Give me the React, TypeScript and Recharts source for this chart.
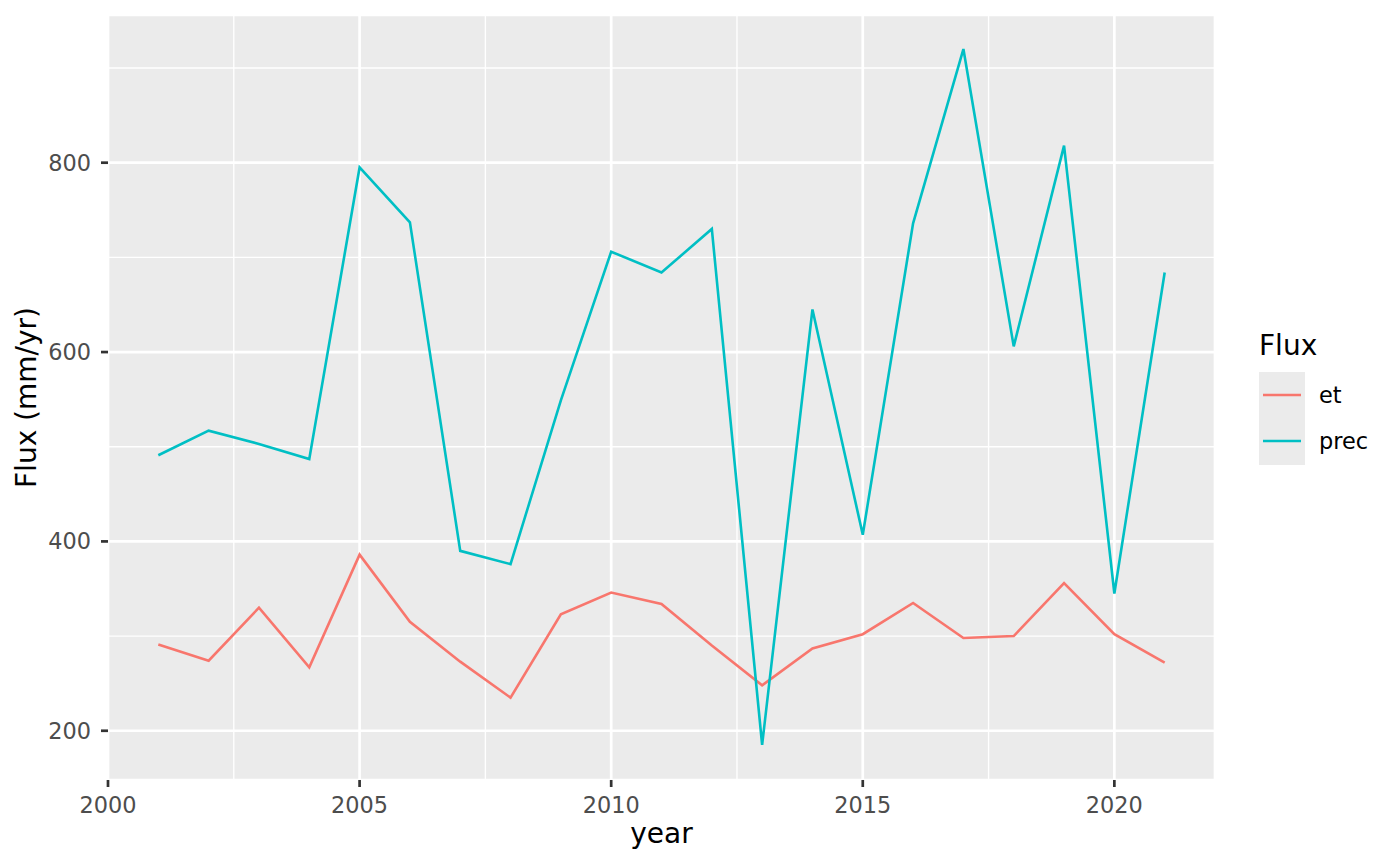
import React from "react";
import {
  LineChart,
  Line,
  XAxis,
  YAxis,
  CartesianGrid,
  ReferenceLine,
} from "recharts";

const years = [2001, 2002, 2003, 2004, 2005, 2006, 2007, 2008, 2009, 2010, 2011, 2012, 2013, 2014, 2015, 2016, 2017, 2018, 2019, 2020, 2021];
const et = [291, 274, 330, 267, 386, 315, 273, 235, 323, 346, 334, 290, 248, 287, 302, 335, 298, 300, 356, 302, 272];
const prec = [491, 517, 503, 487, 795, 737, 390, 376, 549, 706, 684, 730, 185, 645, 407, 736, 920, 606, 818, 345, 684];

const xTicks = [2000, 2005, 2010, 2015, 2020];
const yTicks = [200, 400, 600, 800];
const xMinor = [2002.5, 2007.5, 2012.5, 2017.5];
const yMinor = [300, 500, 700, 900];

const seriesNames = ["et", "prec"];
const seriesColors = ["#F8766D", "#00BFC4"];

const data = years.map((year, i) => ({ year, et: et[i], prec: prec[i] }));

const FONT = "'DejaVu Sans', sans-serif";

// ggplot-style legend: title, grey key column, labels
function LegendBox() {
  return (
    <svg width={140} height={160} style={{ display: "block", fontFamily: FONT }}>
      <text x={19} y={35} fontSize={28} fill="#000">Flux</text>
      <rect x={19} y={52} width={46} height={93} fill="#EBEBEB" />
      {seriesNames.map((name, i) => (
        <g key={name}>
          <line x1={23} x2={61} y1={75 + i * 46} y2={75 + i * 46} stroke={seriesColors[i]} strokeWidth={2.7} />
          <text x={79} y={83 + i * 45.5} fontSize={22.4} fill="#000">{name}</text>
        </g>
      ))}
    </svg>
  );
}

export default function App() {
  return (
    <div style={{ position: "absolute", left: 0, top: 0, width: 1400, height: 865, background: "#fff" }}>
      <LineChart width={1400} height={865} data={data} margin={{ top: 15, right: 185, bottom: 0, left: 0 }}>
        <CartesianGrid fill="#EBEBEB" stroke="#FFFFFF" strokeWidth={2.7} />
        {xMinor.map((v) => (
          <ReferenceLine key={"x" + v} x={v} stroke="#FFFFFF" strokeWidth={1.35} />
        ))}
        {yMinor.map((v) => (
          <ReferenceLine key={"y" + v} y={v} stroke="#FFFFFF" strokeWidth={1.35} />
        ))}
        <XAxis
          dataKey="year"
          type="number"
          domain={[2000, 2022]}
          ticks={xTicks}
          allowDataOverflow
          height={85}
          axisLine={false}
          tickLine={{ stroke: "#333333", strokeWidth: 2.7 }}
          tickSize={7}
          tick={{ fill: "#4D4D4D", fontSize: 22.4, fontFamily: FONT }}
          tickMargin={10}
          label={{ value: "year", position: "insideBottom", offset: 22, fill: "#000", fontSize: 28, fontFamily: FONT }}
        />
        <YAxis
          type="number"
          domain={[148, 956]}
          ticks={yTicks}
          allowDataOverflow
          width={108}
          axisLine={false}
          tickLine={{ stroke: "#333333", strokeWidth: 2.7 }}
          tickSize={7}
          tick={{ fill: "#4D4D4D", fontSize: 22.4, fontFamily: FONT }}
          tickMargin={10}
          label={{ value: "Flux (mm/yr)", angle: -90, position: "insideLeft", offset: 26, fill: "#000", fontSize: 28, fontFamily: FONT, style: { textAnchor: "middle" } }}
        />
        {seriesNames.map((name, i) => (
          <Line
            key={name}
            type="linear"
            dataKey={name}
            stroke={seriesColors[i]}
            strokeWidth={2.6}
            dot={false}
            activeDot={false}
            isAnimationActive={false}
          />
        ))}
      </LineChart>
      <div style={{ position: "absolute", left: 1240, top: 320 }}>
        <LegendBox />
      </div>
    </div>
  );
}
